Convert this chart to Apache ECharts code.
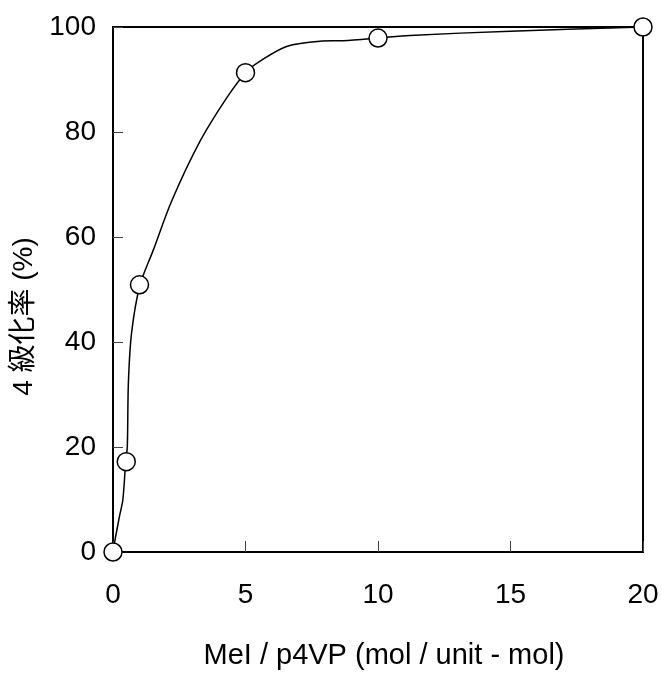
<!DOCTYPE html>
<html>
<head>
<meta charset="utf-8">
<script src="https://cdn.jsdelivr.net/npm/echarts@6/dist/echarts.min.js"></script>
<style>html,body{margin:0;padding:0;background:#fff;}#c{width:662px;height:676px;}</style>
</head>
<body>
<div id="c"></div>
<script>
// Measured points (markers)
var pointX = [0, 0.5, 1, 5, 10, 20];
var pointY = [0, 17.2, 50.9, 91.3, 97.9, 100];
// Curve
var curveX = [0, 0.04, 0.24, 0.37, 0.48, 0.54, 0.58, 0.7, 1.02, 1.52, 2.21, 3.28, 4.29, 5.02, 5.55, 6.55, 7.81, 8.69, 10, 11.2, 15, 20];
var curveY = [0, 1.3, 6.7, 9.9, 17.2, 20.1, 32.1, 41.7, 50.9, 57.5, 66.8, 78.2, 86.5, 91.4, 93.5, 96.3, 97.3, 97.4, 97.9, 98.4, 99.2, 100];
var xTicks = [0, 5, 10, 15, 20];
var yTicks = [0, 20, 40, 60, 80, 100];
var xName = 'MeI / p4VP (mol / unit - mol)';
var yName = '4 級化率 (%)';

var FONT = "'Liberation Sans', 'Noto Sans CJK JP', sans-serif";
var chart = echarts.init(document.getElementById('c'));
chart.setOption({
  animation: false,
  textStyle: { fontFamily: FONT },
  grid: { left: 113, right: 19, top: 27, bottom: 124, show: true, borderColor: '#000', borderWidth: 2, backgroundColor: 'transparent' },
  xAxis: {
    type: 'value', min: xTicks[0], max: xTicks[xTicks.length - 1], interval: 5,
    name: xName, nameLocation: 'middle', nameGap: 90,
    nameTextStyle: { fontSize: 29, color: '#000', fontFamily: FONT, padding: [0, 0, 0, 12] },
    axisLine: { show: true, lineStyle: { color: '#000', width: 2 } },
    axisTick: { show: true, inside: true, length: 11, lineStyle: { color: '#444', width: 1 } },
    axisLabel: { fontSize: 28, color: '#000', margin: 29, fontFamily: FONT },
    splitLine: { show: false }
  },
  yAxis: {
    type: 'value', min: yTicks[0], max: yTicks[yTicks.length - 1], interval: 20,
    name: yName, nameLocation: 'middle', nameGap: 71, nameRotate: 90,
    nameTextStyle: { fontSize: 28, color: '#000', fontFamily: FONT, padding: [0, 54, 0, 0] },
    axisLine: { show: true, lineStyle: { color: '#000', width: 2 } },
    axisTick: { show: true, inside: true, length: 10, lineStyle: { color: '#444', width: 1 } },
    axisLabel: { fontSize: 28, color: '#000', margin: 17, fontFamily: FONT },
    splitLine: { show: false }
  },
  series: [
    {
      type: 'line', smooth: 0.3, showSymbol: false, clip: false, z: 3,
      lineStyle: { color: '#000', width: 1.5 },
      data: curveX.map(function (x, i) { return [x, curveY[i]]; })
    },
    {
      type: 'scatter', symbol: 'circle', symbolSize: 18, clip: false, z: 5,
      itemStyle: { color: '#fff', borderColor: '#000', borderWidth: 1.5, opacity: 1 },
      data: pointX.map(function (x, i) { return [x, pointY[i]]; })
    }
  ]
});
</script>
</body>
</html>
